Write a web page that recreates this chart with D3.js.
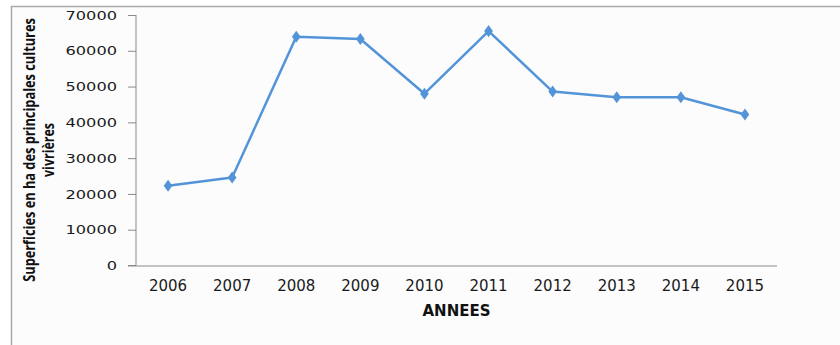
<!DOCTYPE html>
<html>
<head>
<meta charset="utf-8">
<script src="https://cdn.jsdelivr.net/npm/d3@7"></script>
<style>
  html, body { margin: 0; padding: 0; background: #ffffff; }
  svg { display: block; }
</style>
</head>
<body>
<svg id="chart" width="840" height="345"></svg>
<script>
const years = ["2006","2007","2008","2009","2010","2011","2012","2013","2014","2015"];
const surfaces = [22300, 24600, 63900, 63300, 48000, 65500, 48600, 47000, 47000, 42200];
const yTicks = [0, 10000, 20000, 30000, 40000, 50000, 60000, 70000];
const yLabelLines = ["Superficies en ha des principales cultures", "vivrières"];
const xTitle = "ANNEES";

(function () {
const svg = d3.select("#chart");

// outer frame
svg.append("rect")
  .attr("x", 11.5).attr("y", 6.5)
  .attr("width", 840).attr("height", 345)
  .attr("fill", "#fcfcfc")
  .attr("stroke", "#a9a9a9")
  .attr("stroke-width", 1.5);

const pLeft = 136, pRight = 777, pTop = 15, pBottom = 265.5;

const x = d3.scaleBand().domain(years).range([pLeft, pRight]);
const y = d3.scaleLinear().domain([0, 70000]).range([pBottom, pTop]);

// Y axis
const sxY = 1.35;
const yAxis = svg.append("g")
  .attr("transform", `translate(${pLeft},0)`)
  .call(d3.axisLeft(y).tickValues(yTicks).tickSize(8).tickFormat(d3.format("d")));
yAxis.select(".domain").attr("stroke", "#8a8a8a").attr("d", `M-8,${pBottom}H0V${pTop}`);
yAxis.selectAll(".tick line").attr("stroke", "#8a8a8a");
yAxis.selectAll(".tick text")
  .attr("x", -19 / sxY)
  .attr("dy", "0.35em")
  .attr("transform", `scale(${sxY},1)`)
  .style("font-family", "DejaVu Sans, sans-serif")
  .style("font-size", "12px")
  .attr("fill", "#1a1a1a");

// X axis
const xAxis = svg.append("g")
  .attr("transform", `translate(0,${pBottom})`)
  .call(d3.axisBottom(x).tickSize(0));
xAxis.select(".domain").attr("stroke", "#8a8a8a").attr("d", `M${pLeft},0.5H${pRight}`);
xAxis.selectAll(".tick text")
  .attr("y", 25.5)
  .attr("dy", 0)
  .style("font-family", "DejaVu Sans, sans-serif")
  .style("font-size", "15px")
  .attr("fill", "#1a1a1a");

// X title
svg.append("text")
  .attr("x", (pLeft + pRight) / 2)
  .attr("y", 315.5)
  .attr("text-anchor", "middle")
  .style("font-family", "DejaVu Sans, sans-serif")
  .style("font-weight", "bold")
  .style("font-size", "15px")
  .attr("fill", "#111")
  .text(xTitle);

// Y title (two lines, rotated, compressed to the reference length)
const yLabelX = [35, 54];
const yLabelLen = [264, 54];
yLabelLines.forEach((t, i) => {
  const txt = svg.append("text")
    .attr("text-anchor", "middle")
    .style("font-family", "'Open Sans', sans-serif")
    .style("font-weight", "bold")
    .style("font-size", "16px")
    .attr("fill", "#111")
    .text(t);
  const natural = txt.node().getComputedTextLength() || yLabelLen[i];
  const k = yLabelLen[i] / natural;
  txt.attr("transform", `translate(${yLabelX[i]},150) rotate(-90) scale(${k},1)`);
});

// line
const data = years.map((yr, i) => ({ year: yr, value: surfaces[i] }));
const cx = d => x(d.year) + x.bandwidth() / 2;
svg.append("path")
  .datum(data)
  .attr("fill", "none")
  .attr("stroke", "#5394d8")
  .attr("stroke-width", 2.5)
  .attr("stroke-linejoin", "round")
  .attr("d", d3.line().x(cx).y(d => y(d.value)));

// diamond markers
svg.selectAll(".marker")
  .data(data)
  .join("path")
  .attr("class", "marker")
  .attr("transform", d => `translate(${cx(d)},${y(d.value)}) scale(1.25,1)`)
  .attr("d", d3.symbol().type(d3.symbolDiamond).size(42))
  .attr("fill", "#5394d8");
})();
</script>
</body>
</html>
